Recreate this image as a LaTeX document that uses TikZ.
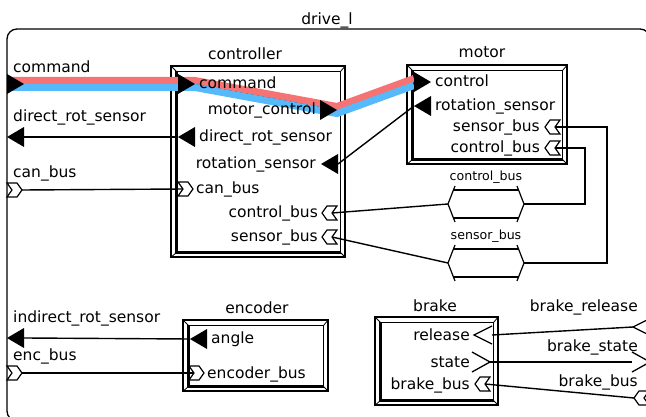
\documentclass[tikz,border=0pt]{standalone}
\usepackage{fontspec}
\setmainfont{DejaVu Sans}
\definecolor{hlred}{RGB}{245,115,115}
\definecolor{hlblue}{RGB}{85,185,250}
\tikzset{
  conn/.style={line width=1.4},
  boxline/.style={line width=1.3},
  lbl/.style={inner sep=0, font=\fontsize{15.5}{18}\selectfont},
  slbl/.style={inner sep=0, font=\fontsize{12.6}{15}\selectfont},
  blk/.style={draw, line width=1.3, inner sep=0},
  trir/.pic={\fill (0,-10) -- (17,0) -- (0,10) -- cycle;},
  tril/.pic={\fill (0,-10) -- (-17,0) -- (0,10) -- cycle;},
  busl/.pic={\draw[line width=1.2, fill=white] (0,0) -- (5,-7) -- (15,-7) -- (10,0) -- (15,7) -- (5,7) -- cycle;},
  busr/.pic={\draw[line width=1.2, fill=white] (0,0) -- (-5,-7) -- (-15,-7) -- (-10,0) -- (-15,7) -- (-5,7) -- cycle;},
  openl/.pic={\draw[line width=1.3] (18,-9) -- (0,0) -- (18,9);},
  openr/.pic={\draw[line width=1.3] (-18,-10) -- (0,0) -- (-18,10);},
}
\newcommand\bevbox[1]{%
  \coordinate (#1a) at ([shift={(6,6)}]#1.north west);
  \coordinate (#1b) at ([shift={(-5,6)}]#1.north east);
  \coordinate (#1c) at ([shift={(-5,-5)}]#1.south east);
  \coordinate (#1d) at ([shift={(6,-5)}]#1.south west);
  \draw[boxline] (#1a) -- (#1b) -- (#1c) -- (#1d) -- cycle;
  \draw[line width=2.4] (#1a) -- (#1d) -- (#1c);
  \draw[line width=0.8] (#1.north west) -- (#1a) (#1.north east) -- (#1b)
    (#1.south east) -- (#1c) (#1.south west) -- (#1d);
}
\begin{document}
\begin{tikzpicture}[x=1pt,y=-1pt]
\useasboundingbox (0,0) rectangle (646,417);
\clip (0,0) rectangle (646,417);
% outer frame
\node[draw, line width=1.3, rounded corners=10, minimum width=643, minimum height=392, inner sep=0] (drive) at (328.5,225) {};
\node[lbl, anchor=base] (drivet) at (327,25) {drive\_l};

% blocks
\node[blk, minimum width=174, minimum height=191] (ctrl) at (258,161.5) {};
\bevbox{ctrl}
\node[lbl, anchor=base] (ctrlt) at (245,60) {controller};

\node[blk, minimum width=160, minimum height=99] (mot) at (487,114.5) {};
\bevbox{mot}
\node[lbl, anchor=base] (mott) at (482,58) {motor};

\node[blk, minimum width=145, minimum height=71] (enc) at (255.5,355.5) {};
\bevbox{enc}
\node[lbl, anchor=base] (enct) at (257,313) {encoder};

\node[blk, minimum width=123, minimum height=88] (brk) at (436.5,361) {};
\bevbox{brk}
\node[lbl, anchor=base] (brkt) at (435,312) {brake};

% port coordinates
\coordinate (f-cmd) at (7,84);
\coordinate (f-drs) at (24,137);
\coordinate (f-can) at (22,190);
\coordinate (f-irs) at (24,338);
\coordinate (f-enc) at (22,373);
\coordinate (f-brel) at (633,327);
\coordinate (f-bst) at (632,362);
\coordinate (f-bb) at (634,398);
\coordinate (c-cmd) at (195,84);
\coordinate (c-mc) at (337,110);
\coordinate (c-drs) at (178,137);
\coordinate (c-rs) at (338,164);
\coordinate (c-can) at (183,189);
\coordinate (c-cb) at (332,213);
\coordinate (c-sb) at (332,237);
\coordinate (m-ctl) at (414,82);
\coordinate (m-rs) at (414,106);
\coordinate (m-sb) at (555,127);
\coordinate (m-cb) at (555,148);
\coordinate (e-ang) at (190,339);
\coordinate (e-eb) at (194,373);
\coordinate (b-rel) at (492,335);
\coordinate (b-st) at (490,362);
\coordinate (b-bb) at (485,384);
\coordinate (bcl) at (448,204);
\coordinate (bcr) at (524,204);
\coordinate (bsl) at (448,263);
\coordinate (bsr) at (524,263);

% bus elements
\foreach \v in {204,263}{
  \draw[line width=1.2] (455,\v-18) -- (448,\v) -- (455,\v+18);
  \draw[line width=1.2] (517,\v-18) -- (524,\v) -- (517,\v+18);
  \draw[line width=1.2] (453.4,\v-14) -- (518.6,\v-14);
  \draw[line width=1.2] (453.4,\v+14) -- (518.6,\v+14);
}
\node[slbl, anchor=base] (cbt) at (486,181) {control\_bus};
\node[slbl, anchor=base] (sbt) at (486,240) {sensor\_bus};

% highlighted command path
\draw[conn] (f-cmd) -- (c-cmd) -- (c-mc) -- (m-ctl);
\draw[line width=7, hlred] ([yshift=3.5]f-cmd) -- ([yshift=3.5]c-cmd) -- ([yshift=3.5]c-mc) -- ([yshift=3.5]m-ctl);
\draw[line width=7, hlblue] ([yshift=-3.5]f-cmd) -- ([yshift=-3.5]c-cmd) -- ([yshift=-3.5]c-mc) -- ([yshift=-3.5]m-ctl);

% connectors
\draw[conn] (c-drs) -- (f-drs);
\draw[conn] (m-rs) -- (c-rs);
\draw[conn] (f-can) -- (c-can);
\draw[conn] (c-cb) -- (bcl);
\draw[conn] (c-sb) -- (bsl);
\draw[conn] (m-sb) -- ++(52,0) |- (bsr);
\draw[conn] (m-cb) -- ++(30,0) |- (bcr);
\draw[conn] (e-ang) -- (f-irs);
\draw[conn] (f-enc) -- (e-eb);
\draw[conn] (f-brel) -- (b-rel);
\draw[conn] (b-st) -- (f-bst);
\draw[conn] (b-bb) -- (f-bb);

% ports: frame
\pic at (7,84) {trir};
\pic at (24,137) {tril};
\pic at (22,190) {busr};
\pic at (24,338) {tril};
\pic at (22,373) {busr};
\pic at (633,327) {openl};
\pic at (650,362) {openr};
\pic at (634,398) {busl};
% ports: controller
\pic at (178,84) {trir};
\pic at (320,110) {trir};
\pic at (195,137) {tril};
\pic at (338,164) {tril};
\pic at (193,189) {busr};
\pic at (322,213) {busl};
\pic at (322,237) {busl};
% ports: motor
\pic at (414,82) {trir};
\pic at (431,106) {tril};
\pic at (545,127) {busl};
\pic at (545,148) {busl};
% ports: encoder
\pic at (207,339) {tril};
\pic at (204,373) {busr};
% ports: brake
\pic at (474,335) {openl};
\pic at (490,362) {openr};
\pic at (475,384) {busl};

% labels: frame
\node[lbl, anchor=base west] (l1) at (13,73) {command};
\node[lbl, anchor=base west] (l2) at (13,122) {direct\_rot\_sensor};
\node[lbl, anchor=base west] (l3) at (13,178) {can\_bus};
\node[lbl, anchor=base west] (l4) at (13,323) {indirect\_rot\_sensor};
\node[lbl, anchor=base west] (l5) at (13,360) {enc\_bus};
\node[lbl, anchor=base east] (l6) at (638,311) {brake\_release};
\node[lbl, anchor=base east] (l7) at (638,351) {brake\_state};
\node[lbl, anchor=base east] (l8) at (638,386) {brake\_bus};
% labels: controller
\node[lbl, anchor=base west] (c1) at (199,89) {command};
\node[lbl, anchor=base east] (c2) at (316,115) {motor\_control};
\node[lbl, anchor=base west] (c3) at (199,142) {direct\_rot\_sensor};
\node[lbl, anchor=base east] (c4) at (316,169) {rotation\_sensor};
\node[lbl, anchor=base west] (c5) at (196,194) {can\_bus};
\node[lbl, anchor=base east] (c6) at (318,218) {control\_bus};
\node[lbl, anchor=base east] (c7) at (318,242) {sensor\_bus};
% labels: motor
\node[lbl, anchor=base west] (m1) at (435,87) {control};
\node[lbl, anchor=base west] (m2) at (435,111) {rotation\_sensor};
\node[lbl, anchor=base east] (m3) at (540,132) {sensor\_bus};
\node[lbl, anchor=base east] (m4) at (540,153) {control\_bus};
% labels: encoder
\node[lbl, anchor=base west] (e1) at (211,343) {angle};
\node[lbl, anchor=base west] (e2) at (207,378) {encoder\_bus};
% labels: brake
\node[lbl, anchor=base east] (b1) at (470,340) {release};
\node[lbl, anchor=base east] (b2) at (470,367) {state};
\node[lbl, anchor=base east] (b3) at (470,389) {brake\_bus};
\end{tikzpicture}
\end{document}
